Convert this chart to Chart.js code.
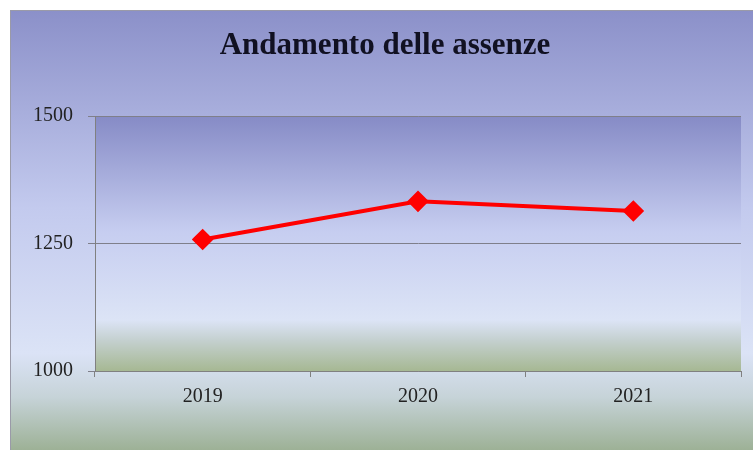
<!DOCTYPE html>
<html><head><meta charset="utf-8">
<script src="https://cdn.jsdelivr.net/npm/chart.js@4/dist/chart.umd.min.js"></script>
<style>html,body{margin:0;padding:0;background:#fff;}#wrap{width:753px;height:450px;}</style>
</head><body><div id="wrap"><canvas id="c" width="753" height="450"></canvas></div>
<script>
const categories = ["2019", "2020", "2021"];
const assenze = [1258, 1333, 1314];
const yTicks = [1000, 1250, 1500];
const chartTitle = "Andamento delle assenze";

const bgPlugin = {
  id: 'bg',
  beforeDraw(chart) {
    const ctx = chart.ctx;
    const W = chart.width, H = chart.height;
    ctx.save();
    ctx.fillStyle = '#ffffff';
    ctx.fillRect(0, 0, W, H);
    const g = ctx.createLinearGradient(0, 10, 0, H);
    g.addColorStop(0, '#8b90c9');
    g.addColorStop(0.45, '#c3caee');
    g.addColorStop(0.78, '#dbe3f6');
    g.addColorStop(0.88, '#c6d3d8');
    g.addColorStop(1, '#9db196');
    ctx.fillStyle = g;
    ctx.fillRect(10, 10, W - 10, H - 10);
    ctx.strokeStyle = '#9a9aa8';
    ctx.lineWidth = 1;
    ctx.beginPath();
    ctx.moveTo(10.5, H); ctx.lineTo(10.5, 10.5); ctx.lineTo(W, 10.5);
    ctx.stroke();
    const a = chart.chartArea;
    const g2 = ctx.createLinearGradient(0, a.top, 0, a.bottom);
    g2.addColorStop(0, '#868bc6');
    g2.addColorStop(0.45, '#c6cdf0');
    g2.addColorStop(0.8, '#dce4f6');
    g2.addColorStop(0.88, '#c4d0cf');
    g2.addColorStop(1, '#a6b893');
    ctx.fillStyle = g2;
    ctx.fillRect(a.left, a.top, a.right - a.left, a.bottom - a.top);
    ctx.restore();
  }
};

new Chart(document.getElementById('c'), {
  type: 'line',
  data: {
    labels: categories,
    datasets: [{
      data: assenze,
      borderColor: '#ff0000',
      backgroundColor: '#ff0000',
      borderWidth: 4,
      pointStyle: 'rectRot',
      pointRadius: 8,
      pointHoverRadius: 8,
      tension: 0
    }]
  },
  options: {
    responsive: false,
    animation: false,
    devicePixelRatio: 1,
    layout: { padding: { left: 28, top: 10, right: 11, bottom: 0 } },
    plugins: {
      legend: { display: false },
      tooltip: { enabled: false },
      title: {
        display: true,
        text: chartTitle,
        color: '#111122',
        font: { family: "'Liberation Serif', serif", size: 31, weight: 'bold', lineHeight: 1.2 },
        padding: { top: 17, bottom: 52 }
      }
    },
    scales: {
      x: {
        offset: true,
        grid: { offset: true, drawOnChartArea: false, color: '#808080', tickLength: 6 },
        border: { color: '#808080' },
        ticks: { color: '#222', font: { family: "'Liberation Serif', serif", size: 20, lineHeight: 1.2 }, padding: 8 },
        afterFit(s) { s.height = 79; }
      },
      y: {
        min: 1000, max: 1500,
        afterBuildTicks(s) { s.ticks = yTicks.map(v => ({ value: v })); },
        grid: { color: '#7f7f8a', tickLength: 7 },
        border: { color: '#808080' },
        ticks: { color: '#222', font: { family: "'Liberation Serif', serif", size: 20 }, padding: 15,
                 callback: v => String(v) },
        afterFit(s) { s.width = 67; }
      }
    }
  },
  plugins: [bgPlugin]
});
</script></body></html>
